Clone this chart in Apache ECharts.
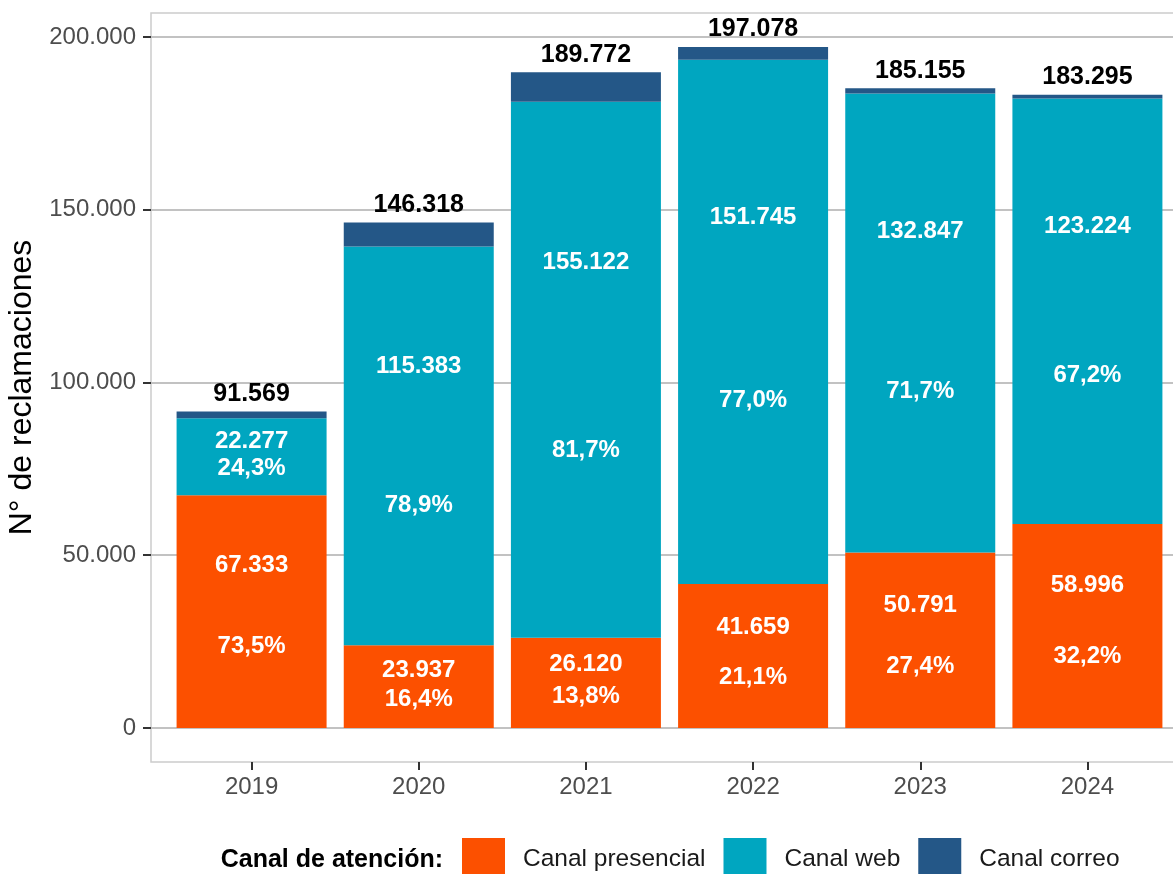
<!DOCTYPE html>
<html>
<head>
<meta charset="utf-8">
<script src="https://cdn.jsdelivr.net/npm/echarts@6/dist/echarts.min.js"></script>
<style>
html,body{margin:0;padding:0;background:#fff;}
#chart{width:1173px;height:874px;}
</style>
</head>
<body>
<div id="chart"></div>
<script>
const categories = ['2019', '2020', '2021', '2022', '2023', '2024'];
const presencial = [67333, 23937, 26120, 41659, 50791, 58996];
const web = [22277, 115383, 155122, 151745, 132847, 123224];
const correo = [1959, 6998, 8530, 3674, 1517, 1075];
const totals = [91569, 146318, 189772, 197078, 185155, 183295];
const pctPresencial = [73.5, 16.4, 13.8, 21.1, 27.4, 32.2];
const pctWeb = [24.3, 78.9, 81.7, 77.0, 71.7, 67.2];
const yTicks = [0, 50000, 100000, 150000, 200000];
const seriesNames = ['Canal presencial', 'Canal web', 'Canal correo'];
const colors = ['#FC5000', '#00A6C0', '#245787'];

const FONT = "'Liberation Sans', Arial, sans-serif";
const Y_MIN = -9854, Y_MAX = 206932;
const fmtNum = v => String(v).replace(/\B(?=(\d{3})+(?!\d))/g, '.');
const fmtPct = v => v.toFixed(1).replace('.', ',') + '%';

function labelSeries(values, texts) {
  return {
    type: 'scatter',
    xAxisIndex: 0, yAxisIndex: 0,
    silent: true,
    symbolSize: 0,
    z: 10,
    itemStyle: { opacity: 1 },
    data: values.map((v, i) => ({ value: v, label: { formatter: texts[i] } })),
    label: {
      show: true,
      position: 'inside',
      color: '#ffffff',
      opacity: 1,
      fontWeight: 'bold',
      fontSize: 24,
      fontFamily: FONT
    }
  };
}

const chart = echarts.init(document.getElementById('chart'));
const option = {
  animation: false,
  textStyle: { fontFamily: FONT },
  grid: [
    { // data grid (category bands)
      left: 168, top: 13, width: 1003, height: 749,
      outerBoundsMode: 'none', containLabel: false
    },
    { // panel frame, y axis, gridlines
      left: 151, top: 13, width: 1036, height: 749,
      show: true, borderColor: '#CCCCCC', borderWidth: 1.5,
      outerBoundsMode: 'none', containLabel: false
    }
  ],
  legend: {
    data: seriesNames,
    left: 462, top: 838, padding: 0,
    itemWidth: 43, itemHeight: 43, itemGap: 18,
    icon: 'rect',
    textStyle: { fontSize: 24.5, color: '#1a1a1a', fontFamily: FONT, padding: [0, 0, 0, 13] }
  },
  graphic: [{
    type: 'text',
    right: 1173 - 443,
    top: 848,
    style: { text: 'Canal de atención:', font: "bold 25px 'Liberation Sans', Arial, sans-serif", fill: '#000' }
  }],
  xAxis: [
    {
      type: 'category', gridIndex: 0,
      data: categories,
      position: 'bottom',
      axisLine: { show: false, onZero: false },
      splitLine: { show: false },
      axisTick: { show: true, alignWithLabel: true, length: 8, lineStyle: { color: '#333', width: 2 } },
      axisLabel: { fontSize: 24, color: '#4D4D4D', margin: 13, fontFamily: FONT }
    },
    {
      type: 'value', gridIndex: 1, min: 0, max: 1, show: false
    }
  ],
  yAxis: [
    {
      type: 'value', gridIndex: 0, min: Y_MIN, max: Y_MAX,
      show: false, splitLine: { show: false }
    },
    {
      type: 'value', gridIndex: 1,
      min: Y_MIN, max: Y_MAX,
      name: 'N° de reclamaciones',
      nameLocation: 'middle',
      nameGap: 106,
      nameTextStyle: { fontSize: 32, color: '#000', fontFamily: FONT },
      axisLine: { show: false },
      axisTick: { show: true, customValues: yTicks, length: 8, lineStyle: { color: '#333', width: 2 } },
      axisLabel: {
        customValues: yTicks,
        formatter: v => fmtNum(v),
        fontSize: 24, color: '#4D4D4D', margin: 15, fontFamily: FONT
      },
      splitLine: { show: true, lineStyle: { color: '#C2C2C2', width: 2 } }
    }
  ],
  series: [
    {
      name: seriesNames[0], type: 'bar', stack: 'total', barWidth: 150,
      xAxisIndex: 0, yAxisIndex: 0,
      itemStyle: { color: colors[0] },
      data: presencial
    },
    {
      name: seriesNames[1], type: 'bar', stack: 'total', barWidth: 150,
      xAxisIndex: 0, yAxisIndex: 0,
      itemStyle: { color: colors[1] },
      data: web
    },
    {
      name: seriesNames[2], type: 'bar', stack: 'total', barWidth: 150,
      xAxisIndex: 0, yAxisIndex: 0,
      itemStyle: { color: colors[2] },
      data: correo,
      label: {
        show: true, position: 'top', distance: 5,
        formatter: p => fmtNum(totals[p.dataIndex]),
        color: '#000', fontWeight: 'bold', fontSize: 25, fontFamily: FONT
      }
    },
    labelSeries(presencial.map(v => v * 0.7), presencial.map(fmtNum)),
    labelSeries(presencial.map(v => v * 0.35), pctPresencial.map(fmtPct)),
    labelSeries(web.map((v, i) => presencial[i] + v * 0.7), web.map(fmtNum)),
    labelSeries(web.map((v, i) => presencial[i] + v * 0.35), pctWeb.map(fmtPct))
  ]
};
chart.setOption(option);
</script>
</body>
</html>
